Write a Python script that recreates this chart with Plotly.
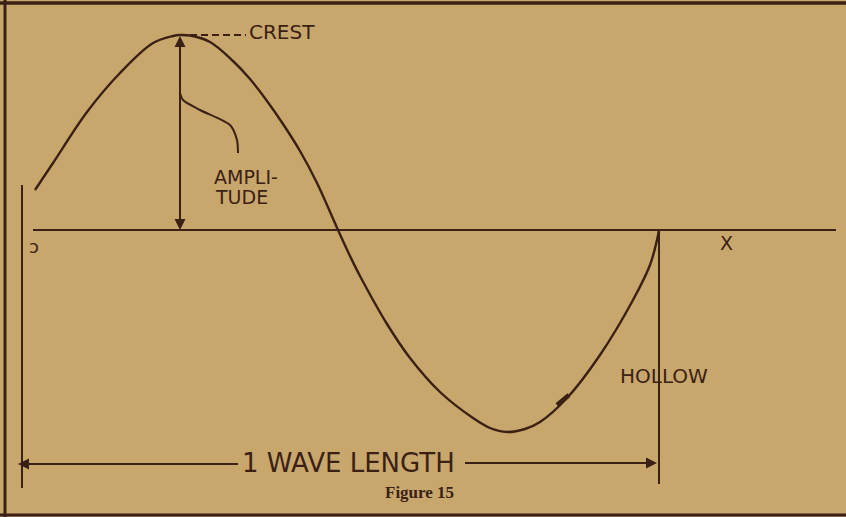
import plotly.graph_objects as go

# Reading of the drawing, in picture units (x to the right, y downward)
wave_x = [35, 53, 87, 120, 153, 173, 180, 190, 210, 233, 250, 267, 283, 300, 317, 338, 350, 360, 387, 410, 440, 473, 490, 507, 525, 540, 567, 600, 633, 650, 657, 659]
wave_y = [190, 163, 112, 73, 43, 36, 35, 35.5, 42, 61, 79, 101, 124, 151, 183, 230, 256, 276, 324, 358, 392, 418, 428, 432, 429, 422, 398, 355, 300, 265, 240, 230]

axis_x = [33, 836]
axis_y = [230, 230]

left_ref_x = [22, 22]
left_ref_y = [185, 488]

hollow_ref_x = [659, 659]
hollow_ref_y = [230, 484]

leader_x = [180, 183, 200, 230, 237, 238]
leader_y = [93, 100, 110, 125, 140, 153]

crest_dash_x = [190, 246]
crest_dash_y = [35, 35]

tick_mark_x = [557, 569]
tick_mark_y = [405, 395]

border_left_x = [5, 5]
border_left_y = [0, 517]
border_top_x = [0, 846]
border_top_y = [3, 3]
border_bot_x = [0, 846]
border_bot_y = [515, 515]

amp_x = 180
amp_top = 36
amp_bottom = 230

wl_y = 463
wl_left = 18
wl_right = 657
wl_text_left = 238
wl_text_right = 465

labels = ["CREST", "AMPLI-", "TUDE", "X", "HOLLOW", "1 WAVE LENGTH", "Figure 15", "ɔ"]
label_x = [282, 246, 241, 726, 664, 348, 419, 34]
label_y = [32, 177, 197, 243, 376, 463, 492, 246]
label_size = [20, 19, 19, 19, 20, 26, 17, 18]

INK = "#3b2115"
BG = "#c8a76c"
HAND = "DejaVu Sans"

fig = go.Figure()

def line(xs, ys, w=2.2, dash="solid", shape="linear", smooth=0.7):
    fig.add_trace(go.Scatter(x=xs, y=ys, mode="lines",
                             line=dict(color=INK, width=w, dash=dash, shape=shape, smoothing=smooth),
                             hoverinfo="skip", showlegend=False))

line(border_left_x, border_left_y, 3)
line(border_top_x, border_top_y, 3.5)
line(border_bot_x, border_bot_y, 3)
line(axis_x, axis_y, 2)
line(left_ref_x, left_ref_y, 2)
line(hollow_ref_x, hollow_ref_y, 2)
line(wave_x, wave_y, 2.4, shape="spline", smooth=1.0)
line(tick_mark_x, tick_mark_y, 4.5)
line(leader_x, leader_y, 2, shape="spline")
line(crest_dash_x, crest_dash_y, 1.8, dash="7px,4px")
line([amp_x, amp_x], [amp_top + 8, amp_bottom - 8], 2)
line([wl_left + 8, wl_text_left], [wl_y + 1, wl_y + 1], 2.2)
line([wl_text_right, wl_right - 8], [wl_y, wl_y], 2.2)

annotations = []
for (x, y, ax, ay) in [
    (amp_x, amp_top, amp_x, amp_top + 30),
    (amp_x, amp_bottom, amp_x, amp_bottom - 30),
    (wl_left, wl_y + 1, wl_left + 40, wl_y + 1),
    (wl_right, wl_y, wl_right - 40, wl_y),
]:
    annotations.append(dict(x=x, y=y, ax=ax, ay=ay, xref="x", yref="y", axref="x", ayref="y",
                            text="", showarrow=True, arrowhead=2, arrowsize=1.1, arrowwidth=2,
                            arrowcolor=INK, standoff=0))

for t, x, y, s in zip(labels, label_x, label_y, label_size):
    fam = "Liberation Serif" if t.startswith("Figure") else HAND
    txt = "<b>" + t + "</b>" if t.startswith("Figure") else t
    annotations.append(dict(x=x, y=y, xref="x", yref="y", text=txt, showarrow=False,
                            font=dict(family=fam, size=s, color=INK),
                            xanchor="center", yanchor="middle"))

fig.update_layout(
    width=846, height=517,
    margin=dict(l=0, r=0, t=0, b=0),
    paper_bgcolor=BG, plot_bgcolor=BG,
    xaxis=dict(range=[0, 846], visible=False, fixedrange=True),
    yaxis=dict(range=[517, 0], visible=False, fixedrange=True),
    annotations=annotations,
    showlegend=False,
)

fig.write_html("out.html", config={"displayModeBar": False},
               post_script="document.body.style.margin='0';document.body.style.overflow='hidden';")
